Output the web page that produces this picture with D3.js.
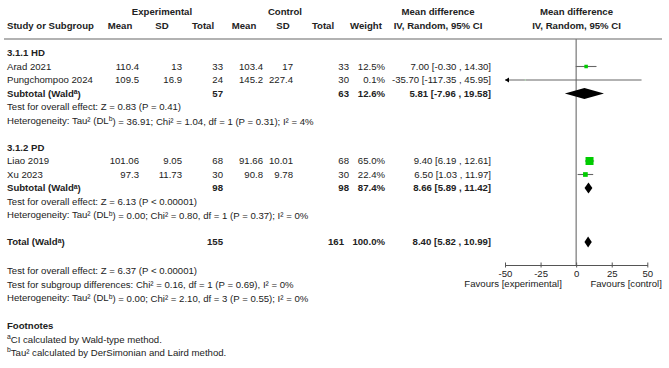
<!DOCTYPE html>
<html>
<head>
<meta charset="utf-8">
<script src="https://cdn.jsdelivr.net/npm/d3@7"></script>
<style>
  body { margin: 0; background: #fff; }
  svg text { font-family: "Liberation Sans", Arial, sans-serif; font-size: 9.6px; fill: #222; }
  .b { font-weight: bold; }
</style>
</head>
<body>
<div id="chart"></div>
<script>
// study level data
const studies = ["Arad 2021", "Pungchompoo 2024", "Liao 2019", "Xu 2023"];
const studyGroup = [0, 0, 1, 1];
const expMean = ["110.4", "109.5", "101.06", "97.3"];
const expSD = ["13", "16.9", "9.05", "11.73"];
const expN = [33, 24, 68, 30];
const ctlMean = ["103.4", "145.2", "91.66", "90.8"];
const ctlSD = ["17", "227.4", "10.01", "9.78"];
const ctlN = [33, 30, 68, 30];
const weights = [12.5, 0.1, 65.0, 22.4];
const md = [7.00, -35.70, 9.40, 6.50];
const mdLo = [-0.30, -117.35, 6.19, 1.03];
const mdHi = [14.30, 45.95, 12.61, 11.97];

// subgroups
const groups = ["3.1.1 HD", "3.1.2 PD"];
const groupExpN = [57, 98];
const groupCtlN = [63, 98];
const groupWeight = [12.6, 87.4];
const groupMD = [5.81, 8.66];
const groupLo = [-7.96, 5.89];
const groupHi = [19.58, 11.42];
const groupZ = ["Test for overall effect: Z = 0.83 (P = 0.41)", "Test for overall effect: Z = 6.13 (P < 0.00001)"];
const groupHet = [
  ["Heterogeneity: Tau² (DL", "b", ") = 36.91; Chi² = 1.04, df = 1 (P = 0.31); I² = 4%"],
  ["Heterogeneity: Tau² (DL", "b", ") = 0.00; Chi² = 0.80, df = 1 (P = 0.37); I² = 0%"]
];

// overall
const totalExpN = 155, totalCtlN = 161, totalWeight = 100.0;
const totalMD = 8.40, totalLo = 5.82, totalHi = 10.99;
const totalTests = [
  ["Test for overall effect: Z = 6.37 (P < 0.00001)"],
  ["Test for subgroup differences: Chi² = 0.16, df = 1 (P = 0.69), I² = 0%"],
  ["Heterogeneity: Tau² (DL", "b", ") = 0.00; Chi² = 2.10, df = 3 (P = 0.55); I² = 0%"]
];
const footnotes = [["a", "CI calculated by Wald-type method."], ["b", "Tau² calculated by DerSimonian and Laird method."]];

const axisTicks = [-50, -25, 0, 25, 50];
const green = "#00cc00";

const width = 669, height = 368;
const svg = d3.select("#chart").append("svg")
  .attr("width", width).attr("height", height);

const x = d3.scaleLinear().domain([-50, 50]).range([505, 647.3]);
const row = d3.scaleLinear().domain([0, 1]).range([53, 66.5]);
const box = d3.scaleSqrt().domain([0, 65]).range([0, 8]);

// column right edges
const col = { expMean: 139, expSD: 182, expN: 223, ctlMean: 263, ctlSD: 293, ctlN: 349, weight: 385, ci: 491 };

function txt(xp, yp, s, anchor, bold) {
  return svg.append("text")
    .attr("x", xp).attr("y", yp).attr("dy", "0.35em")
    .attr("text-anchor", anchor || "start")
    .attr("class", bold ? "b" : null)
    .text(s);
}
// text with superscript parts: [before, sup, after]
function supTxt(xp, yp, parts, bold) {
  const t = svg.append("text").attr("x", xp).attr("y", yp).attr("dy", "0.35em")
    .attr("class", bold ? "b" : null);
  t.append("tspan").text(parts[0]);
  if (parts.length > 1) {
    t.append("tspan").attr("dy", "-0.35em").style("font-size", "6.8px").text(parts[1]);
    t.append("tspan").attr("dy", "0.35em").text(parts[2]);
  }
  return t;
}
const fmtCI = (m, l, h) => `${m.toFixed(2)} [${l.toFixed(2)} , ${h.toFixed(2)}]`;
const fmtW = w => w.toFixed(1) + "%";

// headers
txt(162, 12, "Experimental", "middle", true);
txt(285, 12, "Control", "middle", true);
txt(438, 12, "Mean difference", "middle", true);
txt(576.5, 12, "Mean difference", "middle", true);
txt(7, 26, "Study or Subgroup", "start", true);
txt(120, 26, "Mean", "middle", true);
txt(162, 26, "SD", "middle", true);
txt(203, 26, "Total", "middle", true);
txt(244, 26, "Mean", "middle", true);
txt(283, 26, "SD", "middle", true);
txt(323, 26, "Total", "middle", true);
txt(366, 26, "Weight", "middle", true);
txt(438, 26, "IV, Random, 95% CI", "middle", true);
txt(576.5, 26, "IV, Random, 95% CI", "middle", true);

svg.append("line")
  .attr("x1", 4).attr("x2", 662).attr("y1", 39).attr("y2", 39)
  .attr("stroke", "#999").attr("stroke-width", 1.6);

// zero line
svg.append("line")
  .attr("x1", x(0)).attr("x2", x(0)).attr("y1", 39).attr("y2", 265)
  .attr("stroke", "#777").attr("stroke-width", 1.2);

function diamond(yp, m, l, h) {
  const hh = 5.5;
  svg.append("path")
    .attr("d", `M${x(l)},${yp} L${x(m)},${yp - hh} L${x(h)},${yp} L${x(m)},${yp + hh} Z`)
    .attr("fill", "#000");
}

function studyRow(i, r) {
  const yp = row(r);
  txt(7, yp, studies[i]);
  txt(col.expMean, yp, expMean[i], "end");
  txt(col.expSD, yp, expSD[i], "end");
  txt(col.expN, yp, expN[i], "end");
  txt(col.ctlMean, yp, ctlMean[i], "end");
  txt(col.ctlSD, yp, ctlSD[i], "end");
  txt(col.ctlN, yp, ctlN[i], "end");
  txt(col.weight, yp, fmtW(weights[i]), "end");
  txt(col.ci, yp, fmtCI(md[i], mdLo[i], mdHi[i]), "end");

  const lo = Math.max(mdLo[i], -50), hi = Math.min(mdHi[i], 50);
  svg.append("line")
    .attr("x1", x(lo)).attr("x2", x(hi)).attr("y1", yp).attr("y2", yp)
    .attr("stroke", "#666").attr("stroke-width", 1.1);
  if (mdLo[i] < -50) {
    svg.append("path")
      .attr("d", `M${x(-50)},${yp} l4,-2.5 l0,5 Z`).attr("fill", "#000");
  }
  if (mdHi[i] > 50) {
    svg.append("path")
      .attr("d", `M${x(50)},${yp} l-4,-2.5 l0,5 Z`).attr("fill", "#000");
  }
  const s = Math.max(box(weights[i]), 1.2);
  svg.append("rect")
    .attr("x", x(md[i]) - s / 2).attr("y", yp - s / 2)
    .attr("width", s).attr("height", s)
    .attr("fill", weights[i] < 1 ? "#b8f0b8" : green);
}

// subgroups
const groupStart = [0, 7];
groups.forEach((g, gi) => {
  let r = groupStart[gi];
  txt(7, row(r), g, "start", true);
  r++;
  studies.forEach((s, i) => {
    if (studyGroup[i] === gi) { studyRow(i, r); r++; }
  });
  const yp = row(r);
  supTxt(7, yp, ["Subtotal (Wald", "a", ")"], true);
  txt(col.expN, yp, groupExpN[gi], "end", true);
  txt(col.ctlN, yp, groupCtlN[gi], "end", true);
  txt(col.weight, yp, fmtW(groupWeight[gi]), "end", true);
  txt(col.ci, yp, fmtCI(groupMD[gi], groupLo[gi], groupHi[gi]), "end", true);
  diamond(yp, groupMD[gi], groupLo[gi], groupHi[gi]);
  txt(7, row(r + 1), groupZ[gi]);
  supTxt(7, row(r + 2), groupHet[gi]);
});

// total
const ty = row(14);
supTxt(7, ty, ["Total (Wald", "a", ")"], true);
txt(col.expN, ty, totalExpN, "end", true);
txt(col.ctlN - 5, ty, totalCtlN, "end", true);
txt(col.weight, ty, fmtW(totalWeight), "end", true);
txt(col.ci, ty, fmtCI(totalMD, totalLo, totalHi), "end", true);
diamond(ty, totalMD, totalLo, totalHi);

totalTests.forEach((t, i) => supTxt(7, row(16.15 + i), t));

txt(7, row(20.2), "Footnotes", "start", true);
footnotes.forEach((f, i) => {
  const t = svg.append("text").attr("x", 7).attr("y", row(21.2 + i)).attr("dy", "0.35em");
  t.append("tspan").attr("dy", "-0.05em").style("font-size", "6.8px").text(f[0]);
  t.append("tspan").attr("dy", "0.4em").text(f[1]);
});

// axis
const axisY = 265;
const ax = svg.append("g").attr("transform", `translate(0,${axisY})`)
  .call(d3.axisBottom(x).tickValues(axisTicks).tickFormat(d => String(d)).tickSize(2.5).tickSizeOuter(0));
ax.select(".domain").attr("stroke", "#555").attr("stroke-width", 1.1);
ax.selectAll(".tick line").attr("stroke", "#555").attr("y1", -2.5);
ax.selectAll(".tick text").attr("y", 5).attr("dy", "0.71em")
  .style("font-size", "9.6px").style("font-family", "Liberation Sans, Arial, sans-serif").attr("fill", "#222");

txt(x(-10), 283.5, "Favours [experimental]", "end");
txt(x(10), 283.5, "Favours [control]", "start");
</script>
</body>
</html>
